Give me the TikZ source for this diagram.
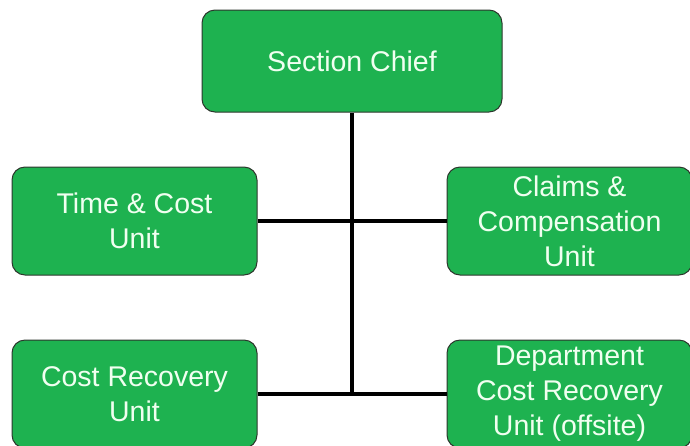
\documentclass[tikz,border=0pt]{standalone}
\usepackage{fontspec}
\setmainfont{Liberation Sans}
\definecolor{boxgreen}{RGB}{30,178,80}
\definecolor{boxedge}{RGB}{45,55,45}
\definecolor{boxtext}{RGB}{240,255,240}
\begin{document}
\begin{tikzpicture}[x=1pt,y=-1pt,
  unitbox/.style={draw=boxedge,line width=1pt,fill=boxgreen,rounded corners=13pt,
    text=boxtext,align=center,font=\fontsize{28.5}{35}\selectfont,inner sep=0pt},
  link/.style={line width=3.6pt,black}]
\useasboundingbox (0,0) rectangle (690,445);
\clip (0,0) rectangle (690,445);
\node[unitbox,minimum width=300pt,minimum height=102pt] (chief) at (352,61) {Section Chief};
\node[unitbox,minimum width=245pt,minimum height=108pt] (time) at (134.5,221) {Time \& Cost\\Unit};
\node[unitbox,minimum width=245pt,minimum height=108pt] (claims) at (569.5,221) {Claims \&\\Compensation\\Unit};
\node[unitbox,minimum width=245pt,minimum height=108pt] (cost) at (134.5,394) {Cost Recovery\\Unit};
\node[unitbox,minimum width=245pt,minimum height=108pt] (dept) at (569.5,394) {Department\\Cost Recovery\\Unit (offsite)};
\coordinate (junction) at (chief.south |- cost.east);
\draw[link] (chief.south) -- (junction);
\draw[link] (time.east) -- (claims.west);
\draw[link] (cost.east) -- (dept.west);
\end{tikzpicture}
\end{document}
